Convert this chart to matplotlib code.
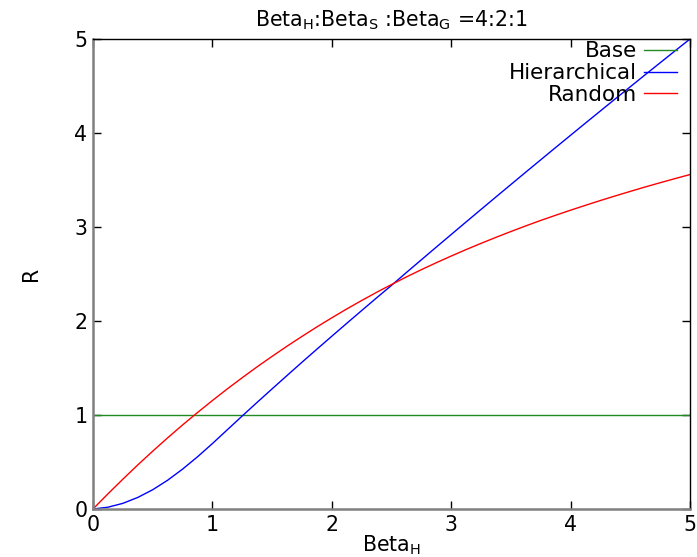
import matplotlib
matplotlib.use("Agg")
import matplotlib.pyplot as plt

beta_h = [0.0, 0.125, 0.25, 0.375, 0.5, 0.625, 0.75, 0.875, 1.0, 1.125, 1.25,
          1.375, 1.5, 1.625, 1.75, 1.875, 2.0, 2.125, 2.25, 2.375, 2.5,
          2.625, 2.75, 2.875, 3.0, 3.125, 3.25, 3.375, 3.5, 3.625, 3.75,
          3.875, 4.0, 4.125, 4.25, 4.375, 4.5, 4.625, 4.75, 4.875, 5.0]
base = [1.0] * len(beta_h)
hierarchical = [0.0, 0.019, 0.060, 0.123, 0.205, 0.306, 0.424, 0.555, 0.696,
                0.843, 0.990, 1.135, 1.278, 1.420, 1.561, 1.700, 1.838, 1.975,
                2.111, 2.246, 2.379, 2.516, 2.651, 2.786, 2.920, 3.054, 3.187,
                3.320, 3.452, 3.584, 3.715, 3.846, 3.976, 4.106, 4.235, 4.364,
                4.492, 4.620, 4.747, 4.874, 5.000]
random_ = [0.0, 0.161, 0.317, 0.469, 0.615, 0.757, 0.894, 1.026, 1.154, 1.278,
           1.397, 1.513, 1.624, 1.732, 1.836, 1.937, 2.034, 2.128, 2.218,
           2.305, 2.388, 2.469, 2.546, 2.620, 2.691, 2.760, 2.826, 2.890,
           2.952, 3.012, 3.070, 3.125, 3.179, 3.231, 3.282, 3.331, 3.379,
           3.426, 3.471, 3.515, 3.558]

W, H = 697, 557
fig = plt.figure(figsize=(W / 100, H / 100), dpi=100)
ax = fig.add_axes([93 / W, 1 - 509 / H, (690 - 93) / W, (509 - 39) / H])

ax.plot(beta_h, base, color="#228B22", lw=1.0, label="Base")
ax.plot(beta_h, hierarchical, color="#0000ff", lw=1.0, label="Hierarchical")
ax.plot(beta_h, random_, color="#ff0000", lw=1.0, label="Random")

ax.set_xlim(0, 5)
ax.set_ylim(0, 5)
ax.set_xticks([0, 1, 2, 3, 4, 5])
ax.set_yticks([0, 1, 2, 3, 4, 5])
ax.tick_params(direction="in", length=6, width=1, labelsize=14.8,
               top=True, right=True, pad=4)

for s in ["left", "bottom"]:
    ax.spines[s].set_color("#808080")
    ax.spines[s].set_linewidth(1.8)
for s in ["top", "right"]:
    ax.spines[s].set_color("black")
    ax.spines[s].set_linewidth(1.0)

ax.set_title("Beta$_\\mathrm{H}$:Beta$_\\mathrm{S}$ :Beta$_\\mathrm{G}$ =4:2:1",
             fontsize=14.8, pad=9)
ax.set_xlabel("Beta$_\\mathrm{H}$", fontsize=14.8, labelpad=-1)
ax.set_ylabel("R", fontsize=14.8, labelpad=24)

leg = ax.legend(loc="upper right", bbox_to_anchor=(1.003, 1.027), frameon=False,
                markerfirst=False, fontsize=15.5, handlelength=1.5,
                handletextpad=0.35, labelspacing=0.08, borderaxespad=0.3)
for t in leg.get_texts():
    t.set_ha("right")

fig.savefig("out.png", dpi=100)
